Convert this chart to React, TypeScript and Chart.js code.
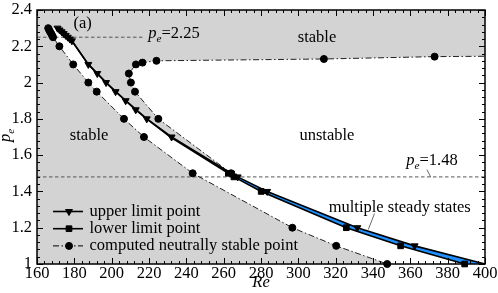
import React, { useEffect, useRef } from 'react';
import { Chart, registerables } from 'chart.js';
import { drawPoint } from 'chart.js/helpers';

Chart.register(...registerables);

// ---------- data (Re, p_e) ----------
const reRange = [160, 400];
const peRange = [1, 2.4];

// upper limit point (▼)
const upperRe = [171, 172.1, 173.2, 174.3, 175.4, 176.5, 177.6, 178.7, 187.5, 192.3, 197, 202.1, 207.5, 212.9, 218.8, 232.1, 264, 267.5, 283.3, 331.6, 362.3, 400];
const upperPe = [2.3, 2.29, 2.28, 2.27, 2.26, 2.25, 2.24, 2.23, 2.1, 2.05, 2.0, 1.95, 1.9, 1.85, 1.8, 1.7, 1.5, 1.48, 1.4, 1.2, 1.1, 1.0];

// lower limit curve (coincides with the upper one above p_e ~ 1.7)
const lowerCurveRe = [171, 178.7, 187.5, 197, 207.5, 218.8, 231.5, 262.5, 265.5, 280.1, 325.7, 354.8, 389.1];
const lowerCurvePe = [2.3, 2.23, 2.1, 2.0, 1.9, 1.8, 1.7, 1.5, 1.48, 1.4, 1.2, 1.1, 1.0];
// lower limit point (■)
const lowerPtRe = [262.5, 265.5, 280.1, 325.7, 354.8, 389.1];
const lowerPtPe = [1.5, 1.48, 1.4, 1.2, 1.1, 1.0];

// computed neutrally stable point (●), left branch
const neutralLeftRe = [166, 166.5, 167, 167.6, 168.1, 168.6, 172, 179.4, 187.5, 192, 206.6, 217.3, 243.4, 296.8, 320.3, 347.6];
const neutralLeftPe = [2.3, 2.29, 2.28, 2.27, 2.26, 2.25, 2.2, 2.1, 2.0, 1.95, 1.8, 1.7, 1.5, 1.2, 1.1, 1.0];
// right branch (nose + upper plateau)
const neutralRightRe = [264, 225, 212.5, 210.3, 209.2, 213, 216.5, 224, 313.7, 373, 400];
const neutralRightPe = [1.5, 1.8, 1.95, 2.0, 2.05, 2.1, 2.11, 2.12, 2.13, 2.143, 2.145];

// reference levels
const refPe = [2.25, 1.48];
const refReEnd = [216.5, 400];

// annotations (data coordinates)
const notes = [
  { text: '(a)', re: 184.4, pe: 2.301 },
  { text: 'stable', re: 310, pe: 2.225 },
  { text: 'stable', re: 187.9, pe: 1.683 },
  { text: 'unstable', re: 315.3, pe: 1.683 },
  { text: 'multiple steady states', re: 354.3, pe: 1.288 },
];
const refNoteRe = [219.6, 357.8];
const refNotePe = [2.244, 1.546];
const leaders = [
  { from: [340.8, 1.278], to: [337.5, 1.19] },
  { from: [368.9, 1.52], to: [370.9, 1.48] },
];

const legendItems = ['upper limit point', 'lower limit point', 'computed neutrally stable point'];

// ---------- styles ----------
const SERIF = '"Liberation Serif", "Times New Roman", serif';
const FS = 16.5;
const GRAY = '#d3d3d3';
const BLUE = '#1e90ff';
const DASHDOT = [6, 2.5, 1.5, 2.5];
const xMinorStep = 4;
const yMinorStep = 0.04;

const pts = (xs: number[], ys: number[]) => xs.map((x, i) => ({ x, y: ys[i] }));
const edgeless = (r: number) => (c: any) => (c.raw && c.raw.x >= reRange[1] ? 0 : r);

const regionsPlugin = {
  id: 'regions',
  beforeDatasetsDraw(chart: any) {
    const { ctx, chartArea: a, scales } = chart;
    const x = scales.x, y = scales.y;
    const P = (re: number, pe: number) => [x.getPixelForValue(re), y.getPixelForValue(pe)];
    const poly = (p: number[][], color: string) => {
      ctx.beginPath();
      p.forEach(([px, py], i) => (i ? ctx.lineTo(px, py) : ctx.moveTo(px, py)));
      ctx.closePath();
      ctx.fillStyle = color;
      ctx.fill();
    };
    ctx.save();
    ctx.beginPath();
    ctx.rect(a.left, a.top, a.width, a.height);
    ctx.clip();
    ctx.fillStyle = GRAY;
    ctx.fillRect(a.left, a.top, a.width, a.height);

    const white: number[][] = [];
    neutralLeftRe.forEach((r, i) => white.push(P(r, neutralLeftPe[i])));
    white.push(P(reRange[1], peRange[0]));
    for (let i = neutralRightRe.length - 1; i >= 0; i--) white.push(P(neutralRightRe[i], neutralRightPe[i]));
    const mergePe = neutralRightPe[0];
    for (let i = upperRe.length - 1; i >= 0; i--) if (upperPe[i] >= mergePe) white.push(P(upperRe[i], upperPe[i]));
    poly(white, '#ffffff');

    const band: number[][] = [];
    lowerCurveRe.forEach((r, i) => band.push(P(r, lowerCurvePe[i])));
    for (let i = upperRe.length - 1; i >= 0; i--) band.push(P(upperRe[i], upperPe[i]));
    poly(band, BLUE);
    ctx.restore();
  },
};

const framePlugin = {
  id: 'frame',
  afterDatasetsDraw(chart: any) {
    const { ctx, chartArea: a, scales } = chart;
    const x = scales.x, y = scales.y;
    ctx.save();
    ctx.strokeStyle = '#000';
    ctx.lineWidth = 1;
    ctx.beginPath();
    const nx = Math.round((reRange[1] - reRange[0]) / xMinorStep);
    for (let i = 0; i <= nx; i++) {
      const px = Math.round(x.getPixelForValue(reRange[0] + i * xMinorStep)) + 0.5;
      const L = i % 5 === 0 ? 6 : 3;
      ctx.moveTo(px, a.bottom); ctx.lineTo(px, a.bottom - L);
      ctx.moveTo(px, a.top); ctx.lineTo(px, a.top + L);
    }
    const ny = Math.round((peRange[1] - peRange[0]) / yMinorStep);
    for (let j = 0; j <= ny; j++) {
      const py = Math.round(y.getPixelForValue(peRange[0] + j * yMinorStep)) + 0.5;
      const L = j % 5 === 0 ? 6 : 3;
      ctx.moveTo(a.left, py); ctx.lineTo(a.left + L, py);
      ctx.moveTo(a.right, py); ctx.lineTo(a.right - L, py);
    }
    ctx.stroke();
    ctx.lineWidth = 1.5;
    ctx.strokeRect(a.left, a.top, a.width, a.height);
    ctx.restore();
  },
};

const drawPe = (ctx: any, x: number, y: number, tail: string) => {
  ctx.textAlign = 'left';
  ctx.textBaseline = 'alphabetic';
  ctx.font = `italic ${FS}px ${SERIF}`;
  ctx.fillText('p', x, y);
  let cx = x + ctx.measureText('p').width;
  ctx.font = `italic ${FS * 0.68}px ${SERIF}`;
  ctx.fillText('e', cx, y + 4);
  cx += ctx.measureText('e').width;
  if (tail) {
    ctx.font = `${FS}px ${SERIF}`;
    ctx.fillText(tail, cx, y);
  }
};

const textPlugin = {
  id: 'texts',
  afterDatasetsDraw(chart: any) {
    const { ctx, chartArea: a, scales } = chart;
    const x = scales.x, y = scales.y;
    ctx.save();
    ctx.fillStyle = '#000';
    ctx.font = `${FS}px ${SERIF}`;
    ctx.textAlign = 'center';
    ctx.textBaseline = 'alphabetic';
    notes.forEach((n) => ctx.fillText(n.text, x.getPixelForValue(n.re), y.getPixelForValue(n.pe)));
    refPe.forEach((v, i) => drawPe(ctx, x.getPixelForValue(refNoteRe[i]), y.getPixelForValue(refNotePe[i]), '=' + v));

    ctx.strokeStyle = '#444';
    ctx.lineWidth = 0.8;
    ctx.beginPath();
    leaders.forEach((l) => {
      ctx.moveTo(x.getPixelForValue(l.from[0]), y.getPixelForValue(l.from[1]));
      ctx.lineTo(x.getPixelForValue(l.to[0]), y.getPixelForValue(l.to[1]));
    });
    ctx.stroke();

    // y axis title
    ctx.save();
    ctx.translate(a.left - 27.5, (a.top + a.bottom) / 2 + 5);
    ctx.rotate(-Math.PI / 2);
    drawPe(ctx, 0, 0, '');
    ctx.restore();

    // legend
    const lx0 = a.left + 16, lx1 = a.left + 46, mx = a.left + 32, tx = a.left + 52.5;
    const rows = [211.5, 228.7, 245.9].map((v) => a.top + (v - 10));
    const styles = [
      { dash: [] as number[], w: 1.6, point: { pointStyle: 'triangle', rotation: 180, radius: 4, borderWidth: 1 } },
      { dash: [] as number[], w: 1.6, point: { pointStyle: 'rect', rotation: 0, radius: 4, borderWidth: 1 } },
      { dash: DASHDOT, w: 1, point: { pointStyle: 'circle', rotation: 0, radius: 3.5, borderWidth: 1 } },
    ];
    legendItems.forEach((label, i) => {
      const ry = rows[i];
      const s = styles[i];
      ctx.save();
      ctx.strokeStyle = '#000';
      ctx.lineWidth = s.w;
      ctx.setLineDash(s.dash);
      ctx.beginPath();
      ctx.moveTo(lx0, ry);
      ctx.lineTo(lx1, ry);
      ctx.stroke();
      ctx.setLineDash([]);
      ctx.fillStyle = '#000';
      ctx.lineWidth = 1;
      drawPoint(ctx, s.point as any, mx, ry);
      ctx.restore();
      ctx.font = `${FS}px ${SERIF}`;
      ctx.textAlign = 'left';
      ctx.fillStyle = '#000';
      ctx.fillText(label, tx, ry + 4.5);
    });
    ctx.restore();
  },
};

export default function App() {
  const ref = useRef<HTMLCanvasElement>(null);
  useEffect(() => {
    const common = { tension: 0, fill: false, clip: false as any, pointBackgroundColor: '#000', pointBorderColor: '#000', pointBorderWidth: 1 };
    const chart = new Chart(ref.current!, {
      type: 'line',
      data: {
        datasets: [
          { ...common, label: 'lower limit point', data: pts(lowerPtRe, lowerPtPe), showLine: false, pointStyle: 'rect', pointRadius: 4, borderColor: '#000', order: 1 },
          { ...common, label: 'upper limit point', data: pts(upperRe, upperPe), borderColor: '#000', borderWidth: 1.6, pointStyle: 'triangle', rotation: 180, pointRadius: edgeless(4), order: 2 },
          { ...common, label: 'lower limit curve', data: pts(lowerCurveRe, lowerCurvePe), borderColor: '#000', borderWidth: 1.6, pointRadius: 0, order: 3 },
          { ...common, label: 'neutral (left)', data: pts(neutralLeftRe, neutralLeftPe), borderColor: '#222', borderWidth: 1, borderDash: DASHDOT, pointRadius: edgeless(3.5), order: 4 },
          { ...common, label: 'neutral (right)', data: pts(neutralRightRe, neutralRightPe), borderColor: '#222', borderWidth: 1, borderDash: DASHDOT, pointRadius: edgeless(3.5), order: 5 },
          ...refPe.map((v, i) => ({ ...common, label: 'p_e=' + v, data: [{ x: reRange[0], y: v }, { x: refReEnd[i], y: v }], borderColor: '#555', borderWidth: 1, borderDash: [3.5, 2.5], pointRadius: 0, order: 9 })),
        ] as any,
      },
      options: {
        responsive: false,
        animation: false,
        layout: { padding: { top: 10, right: 13, left: 0, bottom: 0 } },
        plugins: { legend: { display: false }, tooltip: { enabled: false } },
        scales: {
          x: {
            type: 'linear', min: reRange[0], max: reRange[1],
            grid: { display: false, drawTicks: false }, border: { display: false },
            ticks: { stepSize: 20, autoSkip: false, maxRotation: 0, padding: 0, color: '#000', font: { family: SERIF, size: FS } },
            title: { display: true, text: 'Re', color: '#000', padding: 0, font: { family: SERIF, size: FS, style: 'italic' } },
            afterFit: (s: any) => { s.height = 29; s.paddingLeft = 0; s.paddingRight = 0; },
          },
          y: {
            type: 'linear', min: peRange[0], max: peRange[1],
            grid: { display: false, drawTicks: false }, border: { display: false },
            ticks: { stepSize: 0.2, padding: 5, color: '#000', font: { family: SERIF, size: FS }, callback: (v: any) => String(Math.round(v * 10) / 10) },
            afterFit: (s: any) => { s.width = 37; s.paddingTop = 0; s.paddingBottom = 0; },
          },
        },
      } as any,
      plugins: [regionsPlugin, framePlugin, textPlugin],
    });
    return () => chart.destroy();
  }, []);
  return (
    <div style={{ position: 'fixed', left: 0, top: 0, width: 498, height: 293, background: '#fff' }}>
      <canvas ref={ref} width={498} height={293} style={{ display: 'block', width: 498, height: 293 }} />
    </div>
  );
}
